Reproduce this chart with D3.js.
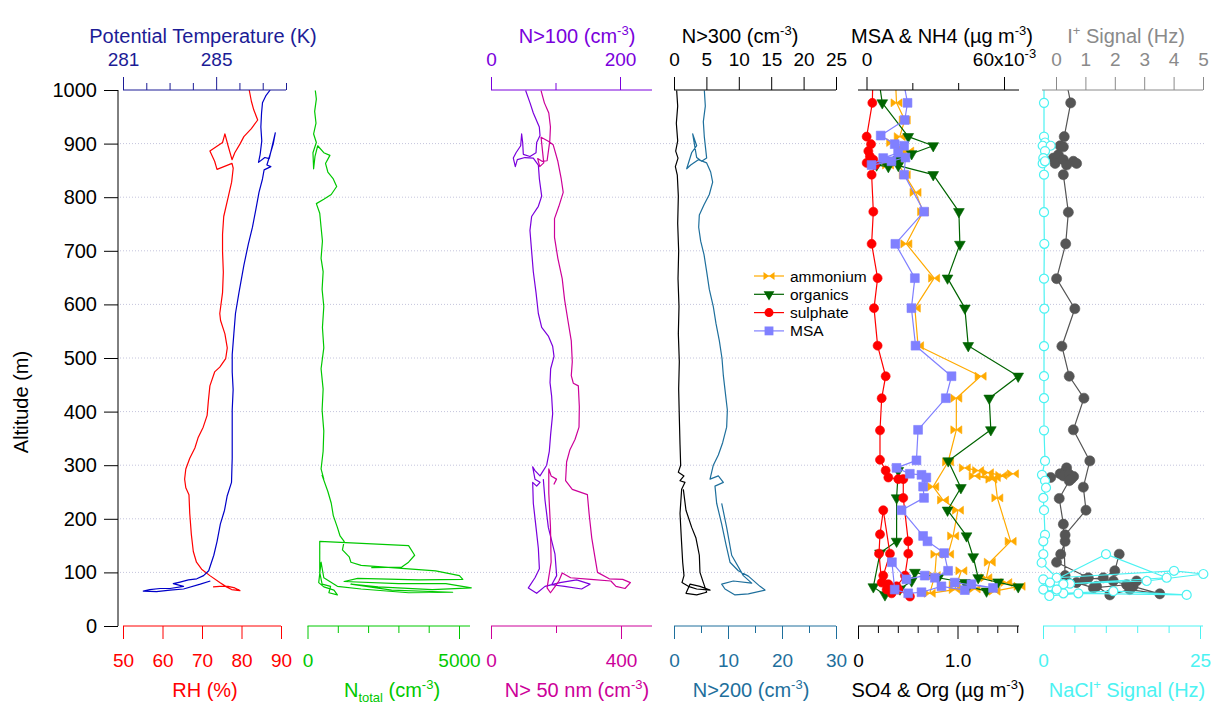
<!DOCTYPE html>
<html>
<head>
<meta charset="utf-8">
<script src="https://cdn.jsdelivr.net/npm/d3@7"></script>
<style>
  body { margin: 0; background: #fff; }
  svg { display: block; font-family: "Liberation Sans", Arial, sans-serif; }
</style>
</head>
<body>
<div id="chart"></div>
<script>
// ---- data, every row is [altitude (m), value] ; null = break in the line ----
var rhData = [[1000,81.95],[979,82.5],[963,83.1],[944,84.1],[928,82.5],[913,80.6],[899,79.6],[883,78.3],[870,77.6],[896,76.6],[918,75.8],[902,75.2],[886,72.0],[867,73.2],[852,73.8],[863,77.6],[854,77.9],[828,77.5],[799,76.6],[764,75.5],[731,75.2],[699,75.2],[660,75.4],[622,75.2],[583,74.5],[570,74.7],[545,75.8],[519,76.4],[499,76.0],[483,74.5],[474,73.2],[448,72.0],[419,71.6],[393,71.3],[371,70.3],[351,69.0],[332,68.2],[313,66.9],[293,65.9],[274,65.6],[258,65.9],[245,66.7],[210,66.9],[171,67.3],[139,67.8],[119,68.6],[106,69.9],[94,72.0],[81,74.5],[73,76.2],[68,77.5],[66,79.6],[71,78.3],[74,76.6],[74,74.5],[73,72.8]];
var thetaData = [[1000,287.32],[989,287.13],[976,286.99],[957,286.95],[931,286.92],[905,286.96],[880,286.89],[865,286.82],[874,287.09],[872,287.28],[920,287.54],[899,287.45],[860,287.18],[857,287.35],[851,287.06],[834,286.99],[809,286.84],[776,286.70],[744,286.56],[712,286.38],[673,286.19],[622,285.98],[583,285.83],[545,285.76],[506,285.69],[474,285.69],[441,285.73],[403,285.69],[364,285.69],[313,285.69],[268,285.66],[242,285.47],[216,285.36],[190,285.18],[158,285.04],[132,284.90],[103,284.68],[94,284.46],[88,284.17],[86,283.81],[82,283.45],[79,283.16],[74,283.60],[70,283.02],[70,282.59],[68,282.15],[65,281.87],[64,282.44],[67,283.02],[69,283.60],[78,284.32],[84,284.75]];
var nTotalData = [[999,258],[983,292],[960,236],[938,281],[918,202],[902,292],[883,180],[853,202],[876,247],[896,337],[883,538],[878,740],[863,594],[847,672],[834,851],[820,963],[805,784],[796,538],[788,292],[770,404],[744,448],[718,493],[686,448],[661,516],[628,482],[596,538],[557,493],[519,538],[480,448],[442,516],[403,482],[364,538],[326,516],[293,448],[274,538],[281,482],[251,672],[229,784],[206,851],[184,986],[168,1075],[158,1209],[142,1153],[129,1377],[119,1433],[113,1769],[108,3000],[103,4231],[94,5014],[87,5126],[86,3671],[89,1657],[83,1209],[79,3000],[79,4566],[71,5406],[68,4119],[73,2328],[78,1433],[67,2776],[63,4790],[62,3336],[69,1769],[74,986],[90,538],[119,448],[81,370],[73,538],[67,874],[58,986],[62,706],[74,762],[78,482],[100,404],[158,404],[150,3336],[132,3537],[119,3336],[110,3112],[109,2105]];
var n100Data = [[999,53.7],[976,60.5],[957,65.6],[931,74.9],[915,76.0],[902,70.8],[883,69.8],[876,60.4],[880,50.1],[902,49.1],[918,47.5],[896,46.0],[883,38.8],[873,34.6],[857,37.7],[870,40.8],[874,52.7],[873,65.6],[860,73.4],[834,75.0],[802,78.6],[783,73.4],[764,63.0],[738,60.4],[699,63.0],[661,65.6],[622,69.8],[583,73.4],[557,78.6],[541,88.9],[522,95.6],[503,97.7],[480,92.5],[454,91.5],[429,94.0],[396,95.6],[358,92.5],[326,90.4],[300,86.3],[280,76.0],[290,68.2],[297,64.6],[274,68.2],[268,76.0],[261,70.8],[268,64.6],[229,65.6],[184,69.8],[145,73.4],[107,75.0],[90,68.2],[71,57.9],[61,70.8],[74,83.7],[81,107.0],[86,132.8],[78,153.5],[69,140.5],[74,114.1],[77,94.1],[94,101.8],[134,99.2],[184,88.9],[235,83.7],[274,81.1]];
var n50Data = [[999,154.0],[976,164.3],[957,177.8],[931,182.9],[905,180.9],[868,172.6],[867,157.1],[872,143.7],[857,149.9],[864,162.3],[912,154.0],[904,177.8],[898,191.2],[867,205.7],[834,216.1],[809,222.2],[783,208.8],[760,195.4],[725,195.4],[686,205.7],[648,219.1],[609,226.4],[570,236.7],[532,247.0],[493,250.1],[467,247.0],[453,253.2],[448,268.7],[409,271.8],[371,270.8],[348,258.4],[329,242.9],[306,232.6],[271,229.5],[255,250.1],[245,296.6],[210,301.8],[164,310.1],[126,320.4],[100,327.7],[88,363.8],[87,405.2],[81,428.9],[70,412.4],[74,384.5],[84,368.9],[87,307.0],[90,245.0],[99,219.1],[84,208.8],[75,198.5],[62,183.0],[71,172.6],[119,185.0],[184,183.0],[248,177.8],[293,177.8],[280,185.0],[274,201.6],[264,193.4]];
var n300Data = [[999,0.41],[970,0.57],[938,0.36],[905,0.57],[886,0.26],[873,0.62],[857,0.21],[841,0.51],[802,0.67],[751,0.57],[699,0.72],[648,0.62],[596,0.77],[545,0.67],[493,0.82],[442,0.72],[390,0.82],[338,0.93],[300,1.03],[287,0.67],[280,1.54],[271,0.93],[268,1.70],[255,1.18],[210,0.93],[164,1.13],[119,1.34],[94,1.54],[81,1.23],[74,2.21],[69,3.50],[67,5.56],[74,4.01],[78,2.47],[61,1.85],[58,3.50],[63,5.04],[81,4.53],[100,4.01],[132,3.91],[164,3.39],[184,2.73],[216,1.85],[255,1.44]];
var n200Data = [[999,5.62],[970,5.80],[941,5.43],[912,5.62],[873,6.05],[867,5.12],[874,4.20],[918,3.46],[896,4.20],[883,3.27],[853,2.35],[860,3.09],[870,4.51],[864,6.05],[847,6.79],[828,7.16],[805,6.54],[786,5.56],[767,4.69],[744,4.57],[718,4.94],[693,5.56],[661,6.05],[628,6.54],[596,7.28],[564,7.78],[532,8.40],[499,8.89],[467,9.14],[435,9.51],[403,9.88],[371,9.75],[342,9.01],[319,8.21],[300,7.28],[274,6.67],[280,8.21],[268,9.14],[261,7.59],[229,7.90],[190,8.83],[152,9.63],[119,10.37],[103,11.91],[93,13.77],[74,15.93],[67,16.85],[60,13.77],[58,11.30],[69,9.44],[78,8.83],[84,10.99],[80,14.39],[94,12.84],[132,10.68],[184,9.75],[229,8.83]];
// aerosol composition (ammonium and MSA in 1e-3 ug m-3)
var ammoniumData = [[1030,12.5],[976,13.1],[944,16.7],[913,14.5],[902,11.2],[892,15.3],[886,18.2],[860,9.4],[867,13.1],[842,16.7],[809,21.4],[773,24.7],[713,17.4],[649,29.5],[593,21.1],[523,22.5],[466,49.8],[425,39.2],[366,39.2],[306,35.6],[260,29.1],[235,33.4],[216,39.9],[168,37.8],[134,35.6],[134,30.5],[94,29.8],[61,27.6],[68,38.5],[103,41.4],null,[295,42.9],[290,48.7],[286,53.0],[281,58.8],[284,63.9],[274,54.5],[280,47.2],[277,56.0],[239,57.1],[158,62.9],[119,53.8],[90,52.3],[81,61.0],[74,66.8],[65,55.9],[69,47.2],[76,38.5]];
var organicsData = [[1030,0.2],[976,0.244],[913,0.505],[896,0.756],[881,0.539],[870,0.405],[857,0.305],[860,0.187],[864,0.120],[859,0.405],[842,0.756],[773,1.014],[712,1.024],[649,0.900],[593,1.074],[523,1.108],[466,1.610],[425,1.319],[366,1.335],[308,0.907],[258,1.034],[216,0.900],[168,1.091],[129,1.158],[90,1.208],[73,1.610],[82,1.409],[65,1.292],[74,1.108],null,[290,0.405],[239,0.388],[158,0.388],[136,0.221],[73,0.154],[58,0.271],[69,0.422],[84,0.539],[100,0.572],[90,0.807],[81,1.074]];
var sulphateData = [[1030,0.15],[976,0.144],[913,0.087],[899,0.131],[886,0.104],[876,0.120],[864,0.087],[870,0.154],[860,0.171],[842,0.137],[773,0.154],[713,0.137],[649,0.197],[593,0.161],[523,0.197],[466,0.278],[425,0.238],[365,0.221],[310,0.221],[290,0.278],[277,0.305],[274,0.405],[274,0.455],[239,0.455],[158,0.505],[135,0.505],[94,0.472],[74,0.388],[78,0.305],[94,0.254],[135,0.321],[216,0.254],[171,0.221],[135,0.211],[81,0.238],[68,0.288],[61,0.338],[68,0.405],[55,0.522]];
var msaData = [[1030,15.5],[976,17.9],[944,16.7],[915,6.2],[899,12.3],[896,16.4],[883,13.8],[873,7.3],[860,2.2],[867,10.9],[874,17.0],[842,16.4],[773,25.1],[713,12.6],[649,21.1],[593,19.6],[523,21.4],[466,37.1],[425,34.6],[366,22.5],[309,21.8],[295,13.1],[284,18.9],[282,24.0],[277,26.1],[260,24.7],[239,25.1],[216,15.3],[168,24.7],[158,26.6],[136,33.9],[103,35.6],[90,29.8],[94,25.4],[87,17.4],[119,11.1],[68,12.3],[61,18.2],[63,24.0],[74,32.7],[67,42.9],[78,45.8],[71,55.2],[81,38.5]];
var iSignalData = [[1030,0.30],[976,0.50],[913,0.28],[896,0.14],[894,0.25],[873,-0.09],[879,0.08],[863,-0.03],[870,0.25],[867,0.59],[863,0.70],[860,0.36],[842,0.25],[772,0.42],[713,0.33],[648,0.02],[592,0.64],[522,0.20],[466,0.45],[425,0.95],[366,0.59],[308,1.15],[259,0.93],[216,1.02],[170,0.31],[158,0.31],[134,0.16],[119,0.02],[90,1.10],[84,1.95],[74,2.62],[60,3.53],[68,2.51],[58,1.83],[74,1.38],[87,0.98],[90,1.61],[103,2.00],[134,2.15],null,[295,0.36],[287,0.30],[284,0.14],[277,-0.18],[280,0.25],[283,0.45],[275,0.53],[279,0.60],[271,0.45],[238,0.11],[190,0.25],[94,0.31],[81,0.70],[71,1.27],[77,2.40],[84,2.74]];
var naclData = [[1030,0.16],[976,0.16],[913,0.16],[902,0.32],[896,-0.05],[896,1.22],[886,0.32],[873,0.05],[863,-0.05],[867,0.32],[842,0.16],[772,0.16],[713,0.21],[648,0.16],[592,0.21],[522,0.16],[466,0.16],[425,0.16],[365,0.16],[308,0.32],[282,-0.16],[271,0.32],[258,0.48],[239,0.05],[216,0.16],[170,0.32],[158,0.05],[134,0.05],[118,-0.21],[90,2.18],[103,20.86],[97,25.53],[84,16.51],[79,4.30],[74,1.11],[87,0.05],[68,0.05],[61,3.24],[65,11.20],[58,22.88],[61,5.63],[56,1.01],[81,1.11],[134,10.03],[90,19.69],[78,3.24],[68,2.18]];

var altTicks = d3.range(0, 1001, 100);
var gridAlts = d3.range(100, 1000, 100);
var legendNames = ["ammonium", "organics", "sulphate", "MSA"];

// colours
var cRH = "#ff0000", cTheta = "#0000c8", cThetaAxis = "#1c1c96", cNtot = "#00c800",
    cN50 = "#cc0099", cN100 = "#7a00dc", cN200 = "#1e6f9c", cAmm = "#ffaa00",
    cOrg = "#006400", cSul = "#ff0000", cMsa = "#8080ff", cI = "#555555",
    cIAxis = "#8a8a8a", cNacl = "#4cf2f2";

var svg = d3.select("#chart").append("svg").attr("width", 1214).attr("height", 704);

var y = d3.scaleLinear().domain([0, 1000]).range([626, 90]);

// x scales for every panel
var xTheta = d3.scaleLinear().domain([281, 288]).range([123, 286]);
var xRH = d3.scaleLinear().domain([50, 90]).range([123, 281]);
var xNtot = d3.scaleLinear().domain([0, 5000]).range([307.5, 459]);
var xN100 = d3.scaleLinear().domain([0, 200]).range([491, 620]);
var xN50 = d3.scaleLinear().domain([0, 400]).range([491, 621]);
var xN300 = d3.scaleLinear().domain([0, 25]).range([674, 836]);
var xN200 = d3.scaleLinear().domain([0, 30]).range([674, 836]);
var xMsa = d3.scaleLinear().domain([0, 60]).range([866.5, 1004]);
var xSo4 = d3.scaleLinear().domain([0, 1]).range([858, 957.5]);
var xI = d3.scaleLinear().domain([0, 5]).range([1056, 1203]);
var xNacl = d3.scaleLinear().domain([0, 25]).range([1043, 1200]);

// 网格线
svg.append("g").selectAll("line")
    .data(gridAlts)
    .enter().append("line")
    .attr("x1", 120).attr("x2", 1205)
    .attr("y1", function (d) { return y(d); })
    .attr("y2", function (d) { return y(d); })
    .attr("stroke", "#c4c4dc")
    .attr("stroke-width", 1)
    .attr("stroke-dasharray", "1,2");

// clip so traces stop at the top axis
svg.append("defs").append("clipPath").attr("id", "plotclip")
    .append("rect").attr("x", 100).attr("y", 90).attr("width", 1114).attr("height", 536);
var plot = svg.append("g").attr("clip-path", "url(#plotclip)");

// marker shapes
var symbols = {
    circle: d3.symbol().type(d3.symbolCircle).size(64)(),
    bigCircle: d3.symbol().type(d3.symbolCircle).size(80)(),
    square: d3.symbol().type(d3.symbolSquare).size(78)(),
    triangle: d3.symbol().type(d3.symbolTriangle).size(50)(),
    bowtie: "M-5.5,-4L0,0L-5.5,4ZM5.5,-4L0,0L5.5,4Z"
};

function drawTrace(data, xs, color, opt) {
    opt = opt || {};
    var line = d3.line()
        .defined(function (d) { return d !== null; })
        .x(function (d) { return xs(d[1]); })
        .y(function (d) { return y(d[0]); });
    plot.append("path").datum(data)
        .attr("d", line)
        .attr("fill", "none")
        .attr("stroke", color)
        .attr("stroke-width", opt.width || 1.2)
        .attr("stroke-linejoin", "round");
    if (opt.marker) {
        plot.append("g").selectAll("path")
            .data(data.filter(function (d) { return d !== null; }))
            .enter().append("path")
            .attr("d", symbols[opt.marker])
            .attr("transform", function (d) {
                var r = opt.marker === "triangle" ? " rotate(180)" : "";
                return "translate(" + xs(d[1]) + "," + y(d[0]) + ")" + r;
            })
            .attr("fill", opt.hollow ? "#fff" : color)
            .attr("stroke", color)
            .attr("stroke-width", opt.hollow ? 1.2 : 0.6);
    }
}

drawTrace(rhData, xRH, cRH);
drawTrace(thetaData, xTheta, cTheta);
drawTrace(nTotalData, xNtot, cNtot);
drawTrace(n100Data, xN100, cN100);
drawTrace(n50Data, xN50, cN50);
drawTrace(n300Data, xN300, "#000");
drawTrace(n200Data, xN200, cN200);
drawTrace(ammoniumData, xMsa, cAmm, {marker: "bowtie"});
drawTrace(organicsData, xSo4, cOrg, {marker: "triangle"});
drawTrace(sulphateData, xSo4, cSul, {marker: "circle"});
drawTrace(msaData, xMsa, cMsa, {marker: "square"});
drawTrace(iSignalData, xI, cI, {marker: "bigCircle"});
drawTrace(naclData, xNacl, cNacl, {marker: "circle", hollow: true});

// text with super/subscripts
function richText(sel, parts) {
    var shift = 0;
    parts.forEach(function (p) {
        var t = sel.append("tspan").text(p[0]);
        var want = p[1] === "sup" ? -8 : (p[1] === "sub" ? 5 : 0);
        if (want !== shift) t.attr("dy", want - shift);
        shift = want;
        if (p[1]) t.style("font-size", "13px");
    });
    return sel;
}

function drawAxis(a) {
    var g = svg.append("g").attr("transform", "translate(0," + a.y + ")");
    var make = a.top ? d3.axisTop : d3.axisBottom;
    if (a.minor) {
        g.append("g").call(make(a.scale).tickValues(a.minor).tickSize(7).tickFormat(""))
            .call(function (s) { s.select(".domain").remove(); })
            .selectAll("line").attr("stroke", a.color);
    }
    var mg = g.append("g").call(make(a.scale).tickValues(a.major).tickSize(13)
        .tickPadding(a.top ? 11 : 15).tickFormat(a.fmt || d3.format("d")));
    mg.select(".domain").remove();
    mg.attr("font-family", null).attr("font-size", null);
    mg.selectAll("line").attr("stroke", a.color);
    mg.selectAll("text").attr("fill", a.color).style("font-size", "19px");
    g.append("line").attr("x1", a.x0).attr("x2", a.x1).attr("stroke", a.color);
    return mg;
}

// top axes
drawAxis({top: true, y: 90, scale: xTheta, x0: 123, x1: 286, major: [281, 285],
    minor: [282, 283, 284, 286, 287, 288], color: cThetaAxis});
drawAxis({top: true, y: 90, scale: xN100, x0: 491, x1: 652, major: [0, 200], minor: [100], color: cN100});
drawAxis({top: true, y: 90, scale: xN300, x0: 674, x1: 836, major: [0, 5, 10, 15, 20, 25], color: "#000"});
var msaAxis = drawAxis({top: true, y: 90, scale: xMsa, x0: 858, x1: 1019, major: [0, 60], minor: [20, 40], color: "#000"});
msaAxis.selectAll("text").filter(function (d) { return d === 60; })
    .text(null).call(richText, [["60x10", ""], ["-3", "sup"]]);
drawAxis({top: true, y: 90, scale: xI, x0: 1042, x1: 1203, major: [0, 1, 2, 3, 4, 5], color: cIAxis});

// bottom axes
drawAxis({top: false, y: 626, scale: xRH, x0: 123, x1: 281, major: [50, 60, 70, 80, 90], color: cRH});
drawAxis({top: false, y: 626, scale: xNtot, x0: 307.5, x1: 470, major: [0, 5000],
    minor: [1000, 2000, 3000, 4000], color: cNtot});
drawAxis({top: false, y: 626, scale: xN50, x0: 491, x1: 652, major: [0, 400], minor: [200], color: cN50});
drawAxis({top: false, y: 626, scale: xN200, x0: 674, x1: 836, major: [0, 10, 20, 30], minor: [5, 15, 25], color: cN200});
drawAxis({top: false, y: 626, scale: xSo4, x0: 858, x1: 1019, major: [0, 1], minor: [0.2, 0.4, 0.6, 0.8, 1.2, 1.4, 1.6],
    color: "#000", fmt: function (d) { return d === 0 ? "0" : d3.format(".1f")(d); }});
drawAxis({top: false, y: 626, scale: xNacl, x0: 1043, x1: 1203, major: [0, 25], minor: [5, 10, 15, 20], color: cNacl});

// altitude axis
var ya = svg.append("g").attr("transform", "translate(118,0)")
    .call(d3.axisLeft(y).tickValues(altTicks).tickSize(14).tickPadding(7).tickFormat(d3.format("d")));
ya.attr("font-family", null).attr("font-size", null);
ya.select(".domain").attr("d", "M0,90V626");
ya.selectAll("text").style("font-size", "20px").attr("fill", "#000");

svg.append("text")
    .attr("transform", "translate(28,402) rotate(-90)")
    .attr("text-anchor", "middle")
    .style("font-size", "20px")
    .text("Altitude (m)");

// axis titles
var titles = [
    {x: 203, y: 43, color: cThetaAxis, parts: [["Potential Temperature (K)", ""]]},
    {x: 577, y: 43, color: cN100, parts: [["N>100 (cm", ""], ["-3", "sup"], [")", ""]]},
    {x: 740, y: 43, color: "#000", parts: [["N>300 (cm", ""], ["-3", "sup"], [")", ""]]},
    {x: 942, y: 43, color: "#000", parts: [["MSA & NH4 (\u00b5g m", ""], ["-3", "sup"], [")", ""]]},
    {x: 1126, y: 43, color: cIAxis, parts: [["I", ""], ["+", "sup"], [" Signal (Hz)", ""]]},
    {x: 205, y: 697, color: cRH, parts: [["RH (%)", ""]]},
    {x: 392, y: 697, color: cNtot, parts: [["N", ""], ["total", "sub"], [" (cm", ""], ["-3", "sup"], [")", ""]]},
    {x: 577, y: 697, color: cN50, parts: [["N> 50 nm (cm", ""], ["-3", "sup"], [")", ""]]},
    {x: 751, y: 697, color: cN200, parts: [["N>200 (cm", ""], ["-3", "sup"], [")", ""]]},
    {x: 938, y: 697, color: "#000", parts: [["SO4 & Org (\u00b5g m", ""], ["-3", "sup"], [")", ""]]},
    {x: 1127, y: 697, color: cNacl, parts: [["NaCl", ""], ["+", "sup"], [" Signal (Hz)", ""]]}
];
titles.forEach(function (t) {
    svg.append("text")
        .attr("x", t.x).attr("y", t.y)
        .attr("text-anchor", "middle")
        .attr("fill", t.color)
        .style("font-size", "20px")
        .call(richText, t.parts);
});

// 图例
var legendStyle = [
    {color: cAmm, marker: "bowtie"},
    {color: cOrg, marker: "triangle"},
    {color: cSul, marker: "circle"},
    {color: cMsa, marker: "square"}
];
var legend = svg.append("g").attr("transform", "translate(752,276)");
legend.append("rect").attr("x", -2).attr("y", -9).attr("width", 100).attr("height", 66).attr("fill", "#fff");
var item = legend.selectAll(".legendItem")
    .data(legendNames)
    .enter().append("g")
    .attr("class", "legendItem")
    .attr("transform", function (d, i) { return "translate(0," + i * 18.3 + ")"; });
item.append("line")
    .attr("x1", 2).attr("x2", 32)
    .attr("stroke", function (d, i) { return legendStyle[i].color; })
    .attr("stroke-width", 1.2);
item.append("path")
    .attr("d", function (d, i) { return symbols[legendStyle[i].marker]; })
    .attr("transform", function (d, i) { return "translate(17,0)" + (legendStyle[i].marker === "triangle" ? " rotate(180)" : ""); })
    .attr("fill", function (d, i) { return legendStyle[i].color; });
item.append("text")
    .attr("x", 38).attr("y", 5.5)
    .style("font-size", "15.5px")
    .text(function (d) { return d; });
</script>
</body>
</html>
